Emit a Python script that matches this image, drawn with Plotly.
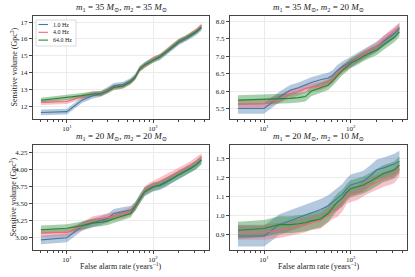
import plotly.graph_objects as go

# ---- data ----
far = [5, 10, 15, 20, 25, 30, 35, 45, 55, 62, 70, 80, 90, 100, 120, 140, 170, 200, 240, 280, 320, 365]

series_names = ["1.0 Hz", "4.0 Hz", "64.0 Hz"]

tl_blue = [11.62, 11.67, 12.35, 12.62, 12.72, 13.0, 13.2, 13.28, 13.5, 13.75, 14.2, 14.45, 14.6, 14.75, 14.9, 15.15, 15.5, 15.8, 16.0, 16.2, 16.4, 16.65]
tl_red = [12.22, 12.27, 12.55, 12.75, 12.75, 12.95, 13.1, 13.2, 13.45, 13.7, 14.2, 14.4, 14.6, 14.8, 14.95, 15.25, 15.6, 15.85, 16.05, 16.3, 16.5, 16.8]
tl_green = [12.35, 12.5, 12.62, 12.72, 12.75, 12.9, 13.1, 13.2, 13.45, 13.7, 14.2, 14.45, 14.6, 14.75, 14.95, 15.2, 15.55, 15.85, 16.05, 16.25, 16.45, 16.7]
tl_err = [0.17, 0.15, 0.15]

tr_blue = [5.51, 5.51, 5.84, 6.03, 6.1, 6.18, 6.25, 6.33, 6.38, 6.46, 6.6, 6.7, 6.78, 6.84, 6.95, 7.05, 7.17, 7.27, 7.43, 7.55, 7.65, 7.8]
tr_red = [5.63, 5.65, 5.78, 5.93, 6.0, 6.08, 6.12, 6.15, 6.25, 6.35, 6.5, 6.64, 6.73, 6.81, 6.95, 7.05, 7.17, 7.27, 7.47, 7.6, 7.72, 7.84]
tr_green = [5.75, 5.77, 5.8, 5.8, 5.82, 5.85, 6.0, 6.1, 6.18, 6.3, 6.45, 6.6, 6.7, 6.8, 6.9, 7.0, 7.1, 7.18, 7.33, 7.45, 7.55, 7.7]
tr_err = [0.15, 0.12, 0.14]

bl_blue = [2.96, 2.99, 3.16, 3.21, 3.24, 3.28, 3.35, 3.38, 3.40, 3.45, 3.57, 3.67, 3.71, 3.74, 3.76, 3.80, 3.87, 3.92, 3.97, 4.02, 4.07, 4.14]
bl_red = [3.06, 3.07, 3.16, 3.25, 3.27, 3.29, 3.31, 3.34, 3.38, 3.45, 3.55, 3.69, 3.74, 3.77, 3.82, 3.86, 3.91, 3.96, 4.02, 4.07, 4.12, 4.18]
bl_green = [3.11, 3.13, 3.17, 3.21, 3.22, 3.24, 3.27, 3.31, 3.35, 3.45, 3.55, 3.67, 3.71, 3.74, 3.77, 3.81, 3.87, 3.92, 3.97, 4.02, 4.07, 4.14]
bl_err = [0.065, 0.06, 0.06]

br_blue = [0.89, 0.89, 0.95, 0.97, 0.985, 1.0, 1.01, 1.03, 1.05, 1.07, 1.09, 1.11, 1.14, 1.16, 1.17, 1.18, 1.21, 1.24, 1.25, 1.26, 1.27, 1.285]
br_red = [0.91, 0.91, 0.92, 0.93, 0.94, 0.95, 0.96, 0.97, 1.0, 1.02, 1.03, 1.06, 1.1, 1.11, 1.12, 1.14, 1.16, 1.175, 1.19, 1.2, 1.21, 1.245]
br_green = [0.92, 0.93, 0.95, 0.95, 0.955, 0.96, 0.97, 0.98, 1.01, 1.04, 1.07, 1.09, 1.12, 1.14, 1.15, 1.16, 1.18, 1.2, 1.22, 1.23, 1.24, 1.265]
br_err = [0.055, 0.04, 0.045]

titles = [
    "<i>m</i><sub>1</sub> = 35 <i>M</i><sub>⊙</sub>, <i>m</i><sub>2</sub> = 35 <i>M</i><sub>⊙</sub>",
    "<i>m</i><sub>1</sub> = 35 <i>M</i><sub>⊙</sub>, <i>m</i><sub>2</sub> = 20 <i>M</i><sub>⊙</sub>",
    "<i>m</i><sub>1</sub> = 20 <i>M</i><sub>⊙</sub>, <i>m</i><sub>2</sub> = 20 <i>M</i><sub>⊙</sub>",
    "<i>m</i><sub>1</sub> = 20 <i>M</i><sub>⊙</sub>, <i>m</i><sub>2</sub> = 10 <i>M</i><sub>⊙</sub>",
]

x_tickvals = [10, 100]
x_ticktext = ["10<sup>1</sup>", "10<sup>2</sup>"]
x_minor = [5, 6, 7, 8, 9, 20, 30, 40, 50, 60, 70, 80, 90, 200, 300, 400]

y_ranges = [[11.23, 17.36], [5.21, 8.15], [2.81, 4.36], [0.816, 1.371]]
y_ticks = [
    [12, 13, 14, 15, 16, 17],
    [5.5, 6.0, 6.5, 7.0, 7.5, 8.0],
    [3.00, 3.25, 3.50, 3.75, 4.00, 4.25],
    [0.9, 1.0, 1.1, 1.2, 1.3],
]
y_ticktext = [
    ["12", "13", "14", "15", "16", "17"],
    ["5.5", "6.0", "6.5", "7.0", "7.5", "8.0"],
    ["3.00", "3.25", "3.50", "3.75", "4.00", "4.25"],
    ["0.9", "1.0", "1.1", "1.2", "1.3"],
]

panels = [
    ([tl_blue, tl_red, tl_green], tl_err),
    ([tr_blue, tr_red, tr_green], tr_err),
    ([bl_blue, bl_red, bl_green], bl_err),
    ([br_blue, br_red, br_green], br_err),
]

line_colors = ["#4477AA", "#EE6677", "#228833"]
fill_colors = ["rgba(68,119,170,0.40)", "rgba(238,102,119,0.40)", "rgba(34,136,51,0.40)"]

W, H = 415, 277
xdoms = [[33 / W, 209 / W], [230 / W, 407 / W]]
ydoms = [[1 - 119 / H, 1 - 16 / H], [1 - 250 / H, 1 - 145 / H]]

FONT = "Liberation Serif, DejaVu Serif, serif"
fig = go.Figure()

for p, (series, errs) in enumerate(panels):
    row, col = divmod(p, 2)
    idx = "" if p == 0 else str(p + 1)
    xa, ya = "x" + idx, "y" + idx
    # bands
    for s, vals in enumerate(series):
        upper = [v + errs[s] for v in vals]
        lower = [v - errs[s] for v in vals]
        fig.add_trace(go.Scatter(x=far, y=upper, xaxis=xa, yaxis=ya, mode="lines",
                                 line=dict(width=0), showlegend=False, hoverinfo="skip"))
        fig.add_trace(go.Scatter(x=far, y=lower, xaxis=xa, yaxis=ya, mode="lines",
                                 line=dict(width=0), fill="tonexty", fillcolor=fill_colors[s],
                                 showlegend=False, hoverinfo="skip"))
    for s, vals in enumerate(series):
        fig.add_trace(go.Scatter(x=far, y=vals, xaxis=xa, yaxis=ya, mode="lines",
                                 line=dict(color=line_colors[s], width=1.1),
                                 name=series_names[s], showlegend=False))
    axis_common = dict(showline=True, linecolor="#444", linewidth=1, mirror=True,
                       ticks="outside", ticklen=3, tickwidth=0.8, tickcolor="#444",
                       gridcolor="#ebebeb", gridwidth=0.6, zeroline=False,
                       tickfont=dict(family=FONT, size=7, color="#222"))
    fig.layout["xaxis" + idx] = dict(
        axis_common, type="log", domain=xdoms[col], anchor=ya,
        range=[0.607, 2.65], tickmode="array", tickvals=x_tickvals,
        ticktext=x_ticktext, tickangle=0,
        minor=dict(tickmode="array", tickvals=x_minor, ticks="outside",
                   ticklen=1.8, tickwidth=0.6, tickcolor="#444", showgrid=False))
    fig.layout["yaxis" + idx] = dict(
        axis_common, domain=ydoms[row], anchor=xa, range=y_ranges[p],
        tickmode="array", tickvals=y_ticks[p], ticktext=y_ticktext[p])
    fig.add_annotation(text=titles[p], xref="paper", yref="paper",
                       x=sum(xdoms[col]) / 2, y=ydoms[row][1] + 1 / H,
                       xanchor="center", yanchor="bottom", showarrow=False,
                       font=dict(family=FONT, size=9, color="#222"))

for row in range(2):
    fig.add_annotation(text="Sensitive volume (Gpc<sup>3</sup>)", xref="paper", yref="paper",
                       x=13 / W, y=sum(ydoms[row]) / 2, textangle=-90,
                       xanchor="center", yanchor="middle", showarrow=False,
                       font=dict(family=FONT, size=8, color="#222"))
for col in range(2):
    fig.add_annotation(text="False alarm rate (years<sup>−1</sup>)", xref="paper", yref="paper",
                       x=sum(xdoms[col]) / 2, y=1 - 266 / H,
                       xanchor="center", yanchor="middle", showarrow=False,
                       font=dict(family=FONT, size=8, color="#222"))

# compact legend box in the first panel (drawn in paper pixels)
leg_x0, leg_x1, leg_y0, leg_y1 = 36, 76, 20, 46
fig.add_shape(type="rect", xref="paper", yref="paper",
              x0=leg_x0 / W, x1=leg_x1 / W, y0=1 - leg_y1 / H, y1=1 - leg_y0 / H,
              line=dict(color="#cccccc", width=0.7), fillcolor="rgba(255,255,255,0.85)", layer="above")
for s, name in enumerate(series_names):
    yy = 1 - (24.5 + 7.8 * s) / H
    fig.add_shape(type="line", xref="paper", yref="paper",
                  x0=38.5 / W, x1=48 / W, y0=yy, y1=yy,
                  line=dict(color=line_colors[s], width=1.1), layer="above")
    fig.add_annotation(text=name, xref="paper", yref="paper", x=50.5 / W, y=yy,
                       xanchor="left", yanchor="middle", showarrow=False,
                       font=dict(family=FONT, size=6, color="#222"))

fig.update_layout(
    width=W, height=H, margin=dict(l=0, r=0, t=0, b=0),
    paper_bgcolor="white", plot_bgcolor="white",
    font=dict(family=FONT, size=7, color="#222"),
    showlegend=False,
)

fig.write_html("out.html", config={"displayModeBar": False},
               post_script="document.body.style.margin='0';")
